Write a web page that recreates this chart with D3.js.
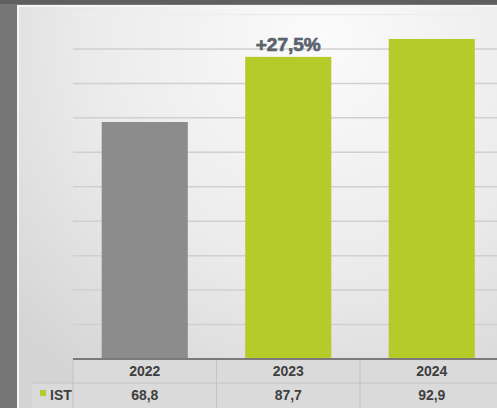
<!DOCTYPE html>
<html>
<head>
<meta charset="utf-8">
<script src="https://cdn.jsdelivr.net/npm/d3@7"></script>
<style>
  body { margin: 0; background: #767676; }
  svg { display: block; }
</style>
</head>
<body>
<div id="chart"></div>
<script>
// data
var years = ["2022", "2023", "2024"];
var istValues = [68.8, 87.7, 92.9];
var valueLabels = ["68,8", "87,7", "92,9"];
var barColors = ["#8c8c8c", "#b5cb2a", "#b5cb2a"];
var seriesName = "IST";
var changeLabel = "+27,5%";
var gridTicks = [10, 20, 30, 40, 50, 60, 70, 80, 90, 100];

var width = 497, height = 408;
var plotLeft = 73, plotRight = 503.5, baseline = 359;

var svg = d3.select("#chart").append("svg")
    .attr("width", width)
    .attr("height", height);

var defs = svg.append("defs");
var grad = defs.append("radialGradient")
    .attr("id", "panelGrad")
    .attr("gradientUnits", "userSpaceOnUse")
    .attr("cx", 320).attr("cy", 40).attr("r", 420);
grad.append("stop").attr("offset", "0%").attr("stop-color", "#fbfbfb");
grad.append("stop").attr("offset", "55%").attr("stop-color", "#ebebeb");
grad.append("stop").attr("offset", "100%").attr("stop-color", "#d4d4d4");

// outer background + panel
svg.append("rect").attr("width", width).attr("height", height).attr("fill", "#767676");
svg.append("rect").attr("x", 0).attr("y", 0).attr("width", width).attr("height", 4).attr("fill", "#5f5f5f");
svg.append("rect").attr("x", 17).attr("y", 5).attr("width", width - 17).attr("height", height - 5)
    .attr("fill", "#f6f6f6");
svg.append("rect").attr("x", 19).attr("y", 7).attr("width", width - 19).attr("height", height - 7)
    .attr("fill", "url(#panelGrad)");

// scales
var x = d3.scaleBand()
    .domain(years)
    .range([plotLeft, plotRight])
    .paddingInner(0.4)
    .paddingOuter(0.2);

var y = d3.scaleLinear()
    .domain([0, 100])
    .range([baseline, 14.5]);

// gridlines
svg.append("g").selectAll("line")
    .data(gridTicks)
    .enter()
    .append("line")
    .attr("x1", plotLeft)
    .attr("x2", width)
    .attr("y1", function (d) { return y(d); })
    .attr("y2", function (d) { return y(d); })
    .attr("stroke", function (d) { return d == 100 ? "#ededed" : "#d0d0d0"; })
    .attr("stroke-width", 1.5);

// bars
svg.append("g").selectAll("rect")
    .data(years)
    .enter()
    .append("rect")
    .attr("x", function (d) { return x(d); })
    .attr("width", x.bandwidth())
    .attr("y", function (d, i) { return y(istValues[i]); })
    .attr("height", function (d, i) { return baseline - y(istValues[i]); })
    .attr("fill", function (d, i) { return barColors[i]; });

// change label over 2023
svg.append("text")
    .attr("x", x("2023") + x.bandwidth() / 2)
    .attr("y", y(istValues[1]) - 6)
    .attr("text-anchor", "middle")
    .attr("font-family", "Liberation Sans, Arial, sans-serif")
    .attr("font-weight", "bold")
    .attr("font-size", "19px")
    .attr("fill", "#5b646e")
    .attr("stroke", "#5b646e")
    .attr("stroke-width", 0.7)
    .text(changeLabel);

// table under the chart
var rowH = 24;
var table = svg.append("g");
table.append("rect")
    .attr("x", plotLeft).attr("y", baseline)
    .attr("width", width - plotLeft).attr("height", rowH)
    .attr("fill", "#dadada");
table.append("rect")
    .attr("x", 32).attr("y", baseline + rowH)
    .attr("width", width - 32).attr("height", rowH + 2)
    .attr("fill", "#dadada");
table.append("line")
    .attr("x1", 32).attr("x2", width)
    .attr("y1", baseline + rowH).attr("y2", baseline + rowH)
    .attr("stroke", "#c4c4c4").attr("stroke-width", 1);

var colEdges = [plotLeft].concat(years.map(function (d) { return x(d) + x.step() * 0.8; }));
table.selectAll("line.col")
    .data(colEdges)
    .enter()
    .append("line")
    .attr("class", "col")
    .attr("x1", function (d) { return d; })
    .attr("x2", function (d) { return d; })
    .attr("y1", baseline)
    .attr("y2", height)
    .attr("stroke", "#c4c4c4");

// baseline axis line
svg.append("line")
    .attr("x1", plotLeft).attr("x2", width)
    .attr("y1", baseline).attr("y2", baseline)
    .attr("stroke", "#7a7a7a").attr("stroke-width", 2);

var cellFont = "Liberation Sans Narrow, Arial Narrow, sans-serif";

table.selectAll("text.year")
    .data(years)
    .enter()
    .append("text")
    .attr("class", "year")
    .attr("x", function (d) { return x(d) + x.bandwidth() / 2; })
    .attr("y", baseline + 17)
    .attr("text-anchor", "middle")
    .attr("font-family", cellFont)
    .attr("font-weight", "bold")
    .attr("font-size", "14px")
    .attr("fill", "#3f3f3f")
    .text(function (d) { return d; });

table.selectAll("text.val")
    .data(valueLabels)
    .enter()
    .append("text")
    .attr("class", "val")
    .attr("x", function (d, i) { return x(years[i]) + x.bandwidth() / 2; })
    .attr("y", baseline + rowH + 17)
    .attr("text-anchor", "middle")
    .attr("font-family", cellFont)
    .attr("font-weight", "bold")
    .attr("font-size", "14px")
    .attr("fill", "#3f3f3f")
    .text(function (d) { return d; });

// legend cell
table.append("rect")
    .attr("x", 40).attr("y", 390)
    .attr("width", 6).attr("height", 6)
    .attr("fill", "#b5cb2a");
table.append("text")
    .attr("x", 50).attr("y", baseline + rowH + 17)
    .attr("font-family", cellFont)
    .attr("font-weight", "bold")
    .attr("font-size", "14px")
    .attr("fill", "#3f3f3f")
    .text(seriesName);
</script>
</body>
</html>
